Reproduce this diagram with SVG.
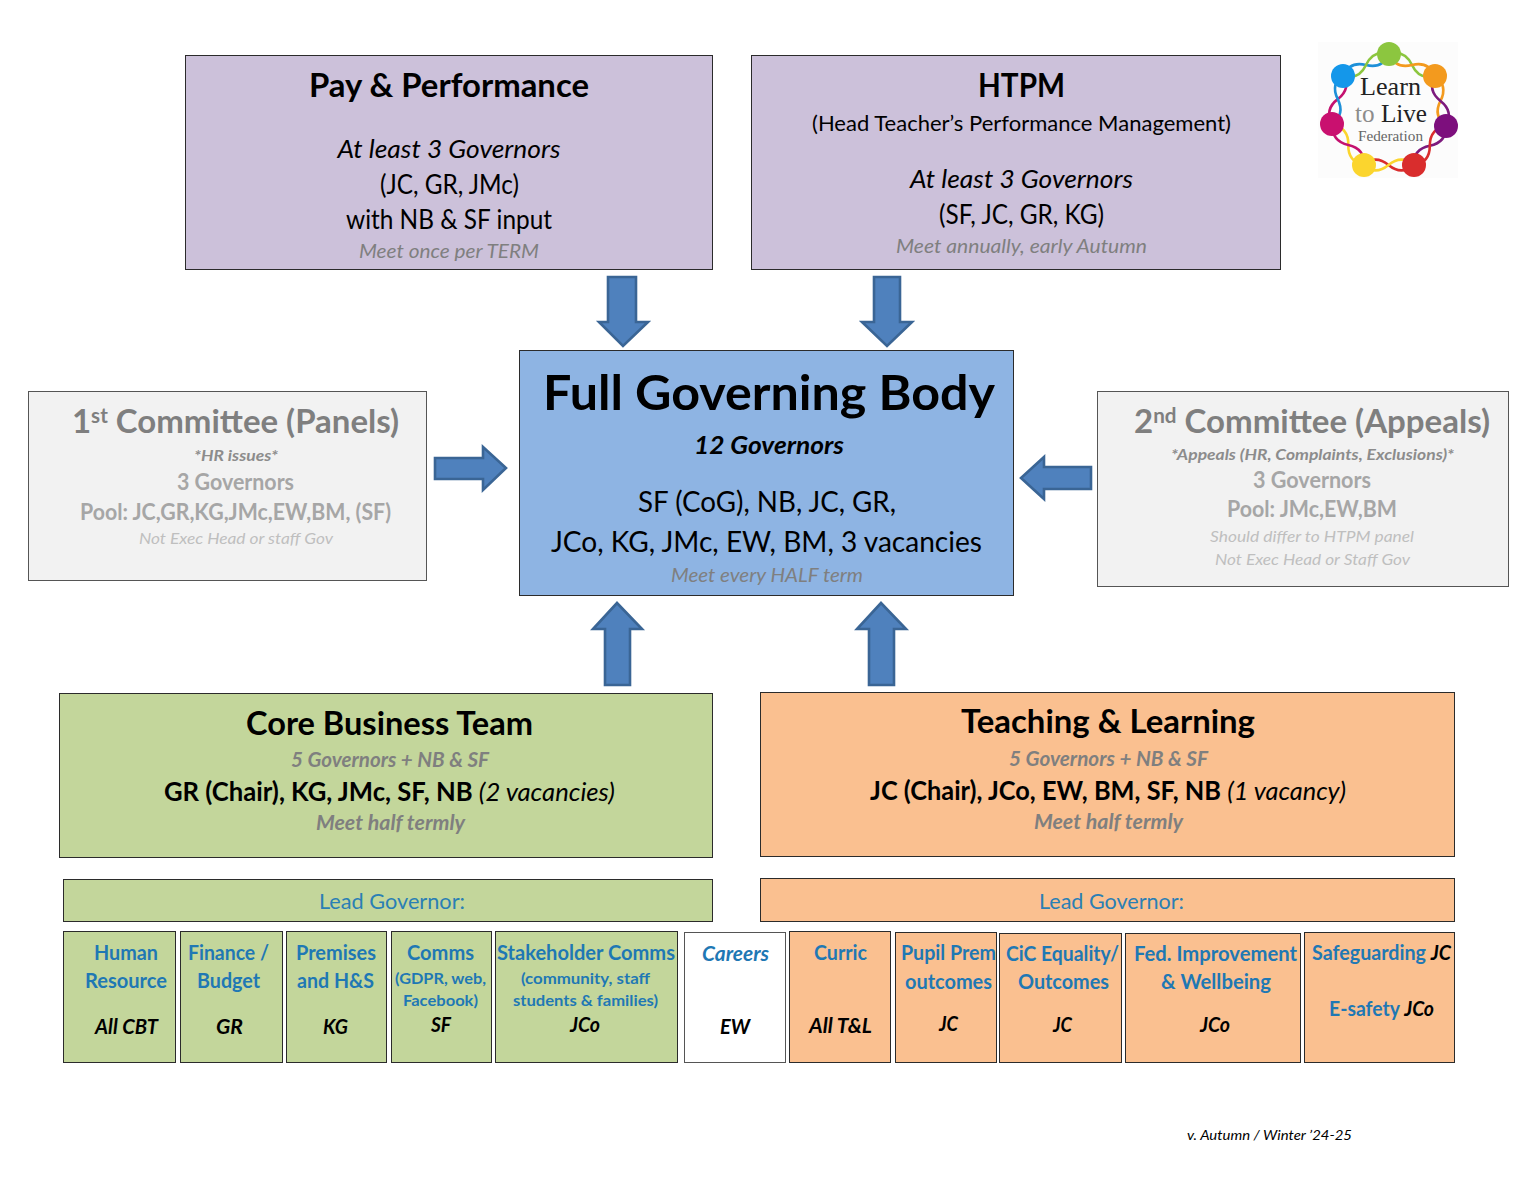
<svg xmlns="http://www.w3.org/2000/svg" xmlns:xlink="http://www.w3.org/1999/xlink" width="1536" height="1187" viewBox="0 0 1536 1187">
<style>
text{font-family:"Lato","Open Sans","Liberation Sans",sans-serif;text-anchor:middle;fill:#000}
.box{stroke:#2b2b2b;stroke-width:1}
.purple{fill:#ccc1da}.blue{fill:#8eb4e3}.grey{fill:#f2f2f2;stroke:#555}.green{fill:#c3d69b}.orange{fill:#fac090}.white{fill:#fff;stroke:#555}
.arrow{fill:#4f81bd;stroke:#3a6595;stroke-width:2.6;stroke-linejoin:miter}
.h1{font-size:32px;font-weight:700}
.b26{font-size:26px}
.i26{font-size:26px;font-style:italic}
.meet{font-size:20px;font-style:italic;fill:#7f7f7f}
.mb{font-size:20px;font-style:italic;font-weight:700;fill:#7f7f7f}
.gh{font-size:32px;font-weight:700;fill:#7f7f7f}
.gi{font-size:16px;font-style:italic;font-weight:700;fill:#8c8c8c}
.g2{font-size:22px;font-weight:700;fill:#a6a6a6}
.g3{font-size:16px;font-style:italic;fill:#bfbfbf}
.lead{font-size:21px;fill:#2a7fb5}
.t{font-size:20px;font-weight:700;fill:#1f78b4}
.s{font-size:16px;font-weight:700;fill:#1f78b4}
.k{font-size:20px;font-weight:700;font-style:italic;fill:#000}
.st{fill:none;stroke-width:2.6}
</style>
<defs>
<path id="wave-a" class="st" d="M0 0C8-7 17-7 25.500 0S43 7 51 0"/>
<path id="wave-b" class="st" d="M0 0C8 7 17 7 25.500 0S43-7 51 0"/>
</defs>
<rect width="1536" height="1187" fill="#fff"/>

<g id="connectors">
<polygon class="arrow" points="608,277 636,277 636,322 648,322 623,346 599,322 608,322"/>
<polygon class="arrow" points="874,277 900,277 900,322 912,322 887,346 862,322 874,322"/>
<polygon class="arrow" points="435,458 483,458 483,447 506,468 483,490 483,479 435,479"/>
<polygon class="arrow" points="1091,467 1044,467 1044,457 1021,478 1044,499 1044,489 1091,489"/>
<polygon class="arrow" points="605,685 630,685 630,629 642,629 617,603 593,629 605,629"/>
<polygon class="arrow" points="869,685 894,685 894,629 906,629 881,603 857,629 869,629"/>
</g>

<g id="pay-performance">
<rect class="box purple" x="185.500" y="55.500" width="527" height="214"/>
<text class="h1" x="449" y="97" textLength="280" lengthAdjust="spacingAndGlyphs">Pay &amp; Performance</text>
<text class="i26" x="449" y="158" textLength="223" lengthAdjust="spacingAndGlyphs">At least 3 Governors</text>
<text class="b26" x="449.500" y="194" textLength="139" lengthAdjust="spacingAndGlyphs">(JC, GR, JMc)</text>
<text class="b26" x="449" y="229" textLength="206" lengthAdjust="spacingAndGlyphs">with NB &amp; SF input</text>
<text class="meet" x="449" y="258" textLength="180" lengthAdjust="spacingAndGlyphs">Meet once per TERM</text>
</g>

<g id="htpm">
<rect class="box purple" x="751.500" y="55.500" width="529" height="214"/>
<text class="h1" x="1021.500" y="97" textLength="87" lengthAdjust="spacingAndGlyphs">HTPM</text>
<text x="1021.500" y="131" font-size="22" textLength="419" lengthAdjust="spacingAndGlyphs">(Head Teacher’s Performance Management)</text>
<text class="i26" x="1021.500" y="188" textLength="223" lengthAdjust="spacingAndGlyphs">At least 3 Governors</text>
<text class="b26" x="1021.500" y="224" textLength="165" lengthAdjust="spacingAndGlyphs">(SF, JC, GR, KG)</text>
<text class="meet" x="1021.500" y="253" textLength="251" lengthAdjust="spacingAndGlyphs">Meet annually, early Autumn</text>
</g>

<g id="logo">
<rect x="1318" y="42" width="140" height="136" fill="#fcfcfc"/>
<g stroke="#1e90d8"><use href="#wave-a" transform="translate(1343 76) rotate(-25.600)"/></g>
<g stroke="#8cc63f"><use href="#wave-b" transform="translate(1343 76) rotate(-25.600)"/></g>
<g stroke="#8cc63f"><use href="#wave-a" transform="translate(1389 54) rotate(25.600)"/></g>
<g stroke="#f39a1e"><use href="#wave-b" transform="translate(1389 54) rotate(25.600)"/></g>
<g stroke="#f39a1e"><use href="#wave-a" transform="translate(1435 76) rotate(77.600)"/></g>
<g stroke="#7d1a7d"><use href="#wave-b" transform="translate(1435 76) rotate(77.600)"/></g>
<g stroke="#7d1a7d"><use href="#wave-a" transform="translate(1446 126) rotate(129.400)"/></g>
<g stroke="#d92d2d"><use href="#wave-b" transform="translate(1446 126) rotate(129.400)"/></g>
<g stroke="#d92d2d"><use href="#wave-a" transform="translate(1414 165) rotate(180)"/></g>
<g stroke="#fbd52e"><use href="#wave-b" transform="translate(1414 165) rotate(180)"/></g>
<g stroke="#fbd52e"><use href="#wave-a" transform="translate(1364 165) rotate(232)"/></g>
<g stroke="#c4116f"><use href="#wave-b" transform="translate(1364 165) rotate(232)"/></g>
<g stroke="#c4116f"><use href="#wave-a" transform="translate(1332 124) rotate(-77)"/></g>
<g stroke="#1e90d8"><use href="#wave-b" transform="translate(1332 124) rotate(-77)"/></g>
<circle cx="1389" cy="54" r="12" fill="#8cc63f"/>
<circle cx="1435" cy="76" r="12" fill="#f39a1e"/>
<circle cx="1446" cy="126" r="12" fill="#7d0f7d"/>
<circle cx="1414" cy="165" r="12" fill="#d92d2d"/>
<circle cx="1364" cy="165" r="12" fill="#fbd52e"/>
<circle cx="1332" cy="124" r="12" fill="#c9106f"/>
<circle cx="1343" cy="76" r="12" fill="#1497ea"/>
<text x="1390.500" y="95" font-size="26" style="font-family:'Liberation Serif',serif;fill:#222" textLength="61" lengthAdjust="spacingAndGlyphs">Learn</text>
<text x="1391" y="122" font-size="26" style="font-family:'Liberation Serif',serif" textLength="72" lengthAdjust="spacingAndGlyphs"><tspan style="fill:#8c8c8c">to </tspan><tspan style="fill:#222">Live</tspan></text>
<text x="1390.500" y="141" font-size="14" style="font-family:'Liberation Serif',serif;fill:#666" textLength="65" lengthAdjust="spacingAndGlyphs">Federation</text>
</g>

<g id="full-governing-body">
<rect class="box blue" x="519.500" y="350.500" width="494" height="245"/>
<text x="769" y="410" font-size="48" font-weight="700" textLength="452" lengthAdjust="spacingAndGlyphs">Full Governing Body</text>
<text x="769" y="454" font-size="25" font-weight="700" font-style="italic" textLength="150" lengthAdjust="spacingAndGlyphs">12 Governors</text>
<text x="767" y="512" font-size="28" textLength="258" lengthAdjust="spacingAndGlyphs">SF (CoG), NB, JC, GR,</text>
<text x="766.500" y="552" font-size="28" textLength="431" lengthAdjust="spacingAndGlyphs">JCo, KG, JMc, EW, BM, 3 vacancies</text>
<text class="meet" x="767" y="582" textLength="192" lengthAdjust="spacingAndGlyphs">Meet every HALF term</text>
</g>

<g id="first-committee">
<rect class="box grey" x="28.500" y="391.500" width="398" height="189"/>
<text class="gh" x="235.500" y="433" textLength="327" lengthAdjust="spacingAndGlyphs">1<tspan font-size="20" dy="-10">st</tspan><tspan dy="10"> Committee (Panels)</tspan></text>
<text class="gi" x="236" y="461" textLength="84" lengthAdjust="spacingAndGlyphs">*HR issues*</text>
<text class="g2" x="235.500" y="490" textLength="117" lengthAdjust="spacingAndGlyphs">3 Governors</text>
<text class="g2" x="235.500" y="520" textLength="311" lengthAdjust="spacingAndGlyphs">Pool: JC,GR,KG,JMc,EW,BM, (SF)</text>
<text class="g3" x="236" y="544" textLength="194" lengthAdjust="spacingAndGlyphs">Not Exec Head or staff Gov</text>
</g>

<g id="second-committee">
<rect class="box grey" x="1097.500" y="391.500" width="411" height="195"/>
<text class="gh" x="1312" y="433" textLength="356" lengthAdjust="spacingAndGlyphs">2<tspan font-size="20" dy="-10">nd</tspan><tspan dy="10"> Committee (Appeals)</tspan></text>
<text class="gi" x="1312.500" y="460" textLength="283" lengthAdjust="spacingAndGlyphs">*Appeals (HR, Complaints, Exclusions)*</text>
<text class="g2" x="1312" y="488" textLength="118" lengthAdjust="spacingAndGlyphs">3 Governors</text>
<text class="g2" x="1312" y="517" textLength="170" lengthAdjust="spacingAndGlyphs">Pool: JMc,EW,BM</text>
<text class="g3" x="1312" y="542" textLength="204" lengthAdjust="spacingAndGlyphs">Should differ to HTPM panel</text>
<text class="g3" x="1312.500" y="565" textLength="195" lengthAdjust="spacingAndGlyphs">Not Exec Head or Staff Gov</text>
</g>

<g id="core-business-team">
<rect class="box green" x="59.500" y="693.500" width="653" height="164"/>
<text class="h1" x="389.500" y="735" textLength="287" lengthAdjust="spacingAndGlyphs">Core Business Team</text>
<text class="mb" x="390" y="767" textLength="198" lengthAdjust="spacingAndGlyphs">5 Governors + NB &amp; SF</text>
<text x="389.500" y="801" font-size="26" textLength="451" lengthAdjust="spacingAndGlyphs"><tspan font-weight="700">GR (Chair), KG, JMc, SF, NB </tspan><tspan font-style="italic">(2 vacancies)</tspan></text>
<text class="mb" x="390.500" y="830" textLength="149" lengthAdjust="spacingAndGlyphs">Meet half termly</text>
</g>

<g id="teaching-learning">
<rect class="box orange" x="760.500" y="692.500" width="694" height="164"/>
<text class="h1" x="1108" y="733" textLength="294" lengthAdjust="spacingAndGlyphs">Teaching &amp; Learning</text>
<text class="mb" x="1108.500" y="766" textLength="199" lengthAdjust="spacingAndGlyphs">5 Governors + NB &amp; SF</text>
<text x="1108" y="800" font-size="26" textLength="476" lengthAdjust="spacingAndGlyphs"><tspan font-weight="700">JC (Chair), JCo, EW, BM, SF, NB </tspan><tspan font-style="italic">(1 vacancy)</tspan></text>
<text class="mb" x="1108.500" y="829" textLength="149" lengthAdjust="spacingAndGlyphs">Meet half termly</text>
</g>

<g id="lead-governor-core">
<rect class="box green" x="63.500" y="879.500" width="649" height="42"/>
<text class="lead" x="392" y="909" textLength="146" lengthAdjust="spacingAndGlyphs">Lead Governor:</text>
</g>
<g id="lead-governor-teaching">
<rect class="box orange" x="760.500" y="878.500" width="694" height="43"/>
<text class="lead" x="1111.500" y="909" textLength="145" lengthAdjust="spacingAndGlyphs">Lead Governor:</text>
</g>

<g id="human-resource">
<rect class="box green" x="63.500" y="931.500" width="112" height="131"/>
<text class="t" x="126" y="960" textLength="64" lengthAdjust="spacingAndGlyphs">Human</text>
<text class="t" x="126" y="988" textLength="82" lengthAdjust="spacingAndGlyphs">Resource</text>
<text class="k" x="126.500" y="1034" textLength="63" lengthAdjust="spacingAndGlyphs">All CBT</text>
</g>
<g id="finance-budget">
<rect class="box green" x="180.500" y="931.500" width="102" height="131"/>
<text class="t" x="228.500" y="960" textLength="81" lengthAdjust="spacingAndGlyphs">Finance /</text>
<text class="t" x="228.500" y="988" textLength="63" lengthAdjust="spacingAndGlyphs">Budget</text>
<text class="k" x="229.500" y="1034" textLength="27" lengthAdjust="spacingAndGlyphs">GR</text>
</g>
<g id="premises">
<rect class="box green" x="286.500" y="931.500" width="100" height="131"/>
<text class="t" x="336" y="960" textLength="80" lengthAdjust="spacingAndGlyphs">Premises</text>
<text class="t" x="335.500" y="988" textLength="77" lengthAdjust="spacingAndGlyphs">and H&amp;S</text>
<text class="k" x="335.500" y="1034" textLength="25" lengthAdjust="spacingAndGlyphs">KG</text>
</g>
<g id="comms">
<rect class="box green" x="391.500" y="931.500" width="100" height="131"/>
<text class="t" x="440.500" y="960" textLength="67" lengthAdjust="spacingAndGlyphs">Comms</text>
<text class="s" x="440.500" y="984" textLength="91" lengthAdjust="spacingAndGlyphs">(GDPR, web,</text>
<text class="s" x="440.500" y="1006" textLength="75" lengthAdjust="spacingAndGlyphs">Facebook)</text>
<text class="k" x="441" y="1032" textLength="20" lengthAdjust="spacingAndGlyphs">SF</text>
</g>
<g id="stakeholder-comms">
<rect class="box green" x="495.500" y="931.500" width="182" height="131"/>
<text class="t" x="586" y="960" textLength="178" lengthAdjust="spacingAndGlyphs">Stakeholder Comms</text>
<text class="s" x="585.500" y="984" textLength="129" lengthAdjust="spacingAndGlyphs">(community, staff</text>
<text class="s" x="585.500" y="1006" textLength="145" lengthAdjust="spacingAndGlyphs">students &amp; families)</text>
<text class="k" x="585" y="1032" textLength="30" lengthAdjust="spacingAndGlyphs">JCo</text>
</g>
<g id="careers">
<rect class="box white" x="684.500" y="932.500" width="101" height="130"/>
<text class="t" x="735.500" y="961" font-style="italic" textLength="67" lengthAdjust="spacingAndGlyphs">Careers</text>
<text class="k" x="735" y="1034" textLength="30" lengthAdjust="spacingAndGlyphs">EW</text>
</g>
<g id="curric">
<rect class="box orange" x="789.500" y="931.500" width="101" height="131"/>
<text class="t" x="840.500" y="960" textLength="53" lengthAdjust="spacingAndGlyphs">Curric</text>
<text class="k" x="840.500" y="1033" textLength="63" lengthAdjust="spacingAndGlyphs">All T&amp;L</text>
</g>
<g id="pupil-premium">
<rect class="box orange" x="895.500" y="932.500" width="101" height="130"/>
<text class="t" x="948.500" y="960" textLength="95" lengthAdjust="spacingAndGlyphs">Pupil Prem</text>
<text class="t" x="948.500" y="989" textLength="87" lengthAdjust="spacingAndGlyphs">outcomes</text>
<text class="k" x="948.500" y="1031" textLength="19" lengthAdjust="spacingAndGlyphs">JC</text>
</g>
<g id="cic-equality">
<rect class="box orange" x="999.500" y="933.500" width="122" height="129"/>
<text class="t" x="1062.500" y="961" textLength="113" lengthAdjust="spacingAndGlyphs">CiC Equality/</text>
<text class="t" x="1063.500" y="989" textLength="91" lengthAdjust="spacingAndGlyphs">Outcomes</text>
<text class="k" x="1062.500" y="1032" textLength="19" lengthAdjust="spacingAndGlyphs">JC</text>
</g>
<g id="federation-improvement">
<rect class="box orange" x="1125.500" y="933.500" width="175" height="129"/>
<text class="t" x="1215.500" y="961" textLength="163" lengthAdjust="spacingAndGlyphs">Fed. Improvement</text>
<text class="t" x="1216" y="989" textLength="110" lengthAdjust="spacingAndGlyphs">&amp; Wellbeing</text>
<text class="k" x="1215" y="1032" textLength="30" lengthAdjust="spacingAndGlyphs">JCo</text>
</g>
<g id="safeguarding">
<rect class="box orange" x="1304.500" y="932.500" width="150" height="130"/>
<text class="t" x="1381.500" y="960" textLength="139" lengthAdjust="spacingAndGlyphs">Safeguarding <tspan class="k">JC</tspan></text>
<text class="t" x="1381.500" y="1016" textLength="105" lengthAdjust="spacingAndGlyphs">E-safety <tspan class="k">JCo</tspan></text>
</g>

<g id="version-note">
<text x="1269.500" y="1140" font-size="13.500" font-style="italic" fill="#222" textLength="165" lengthAdjust="spacingAndGlyphs">v. Autumn / Winter ’24-25</text>
</g>
</svg>
